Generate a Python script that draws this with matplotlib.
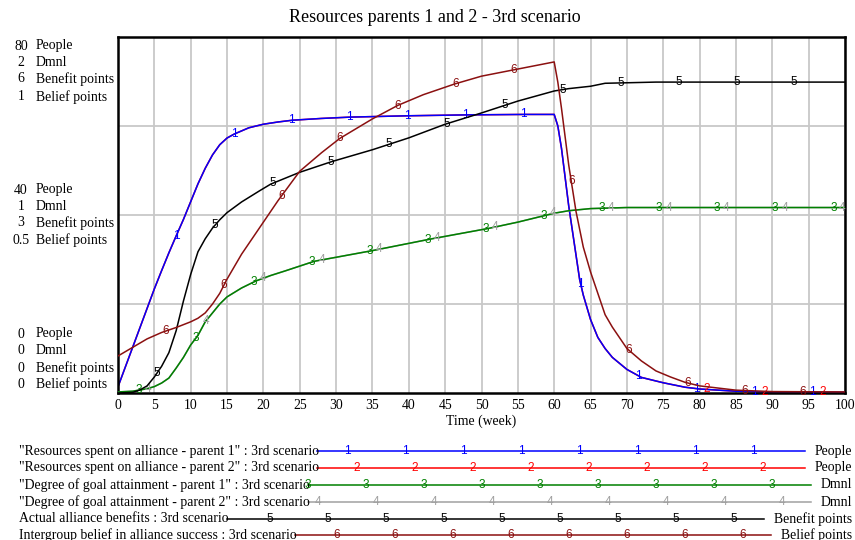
import matplotlib
matplotlib.use("Agg")
import numpy as np
import matplotlib.pyplot as plt
from matplotlib.lines import Line2D

plt.rcParams["font.family"] = ["Liberation Serif", "DejaVu Serif"]

# ---- data ----
title = "Resources parents 1 and 2 - 3rd scenario"
x_label = "Time (week)"
x_ticks = list(range(0, 101, 5))

units = ["People", "Dmnl", "Benefit points", "Belief points"]
unit_max = [80, 2, 6, 1]

# resources spent on alliance (People), parent 1 and parent 2 overlap
t_res = [0, 1, 2, 3, 4, 5, 6, 7, 8, 9, 10, 11, 12, 13, 14, 15, 16, 18, 20, 22,
         24, 28, 32, 40, 48, 56, 60, 60.5, 61, 62, 63, 63.5, 64, 65, 66, 67,
         68, 70, 72, 75, 78, 80, 85, 90, 100]
res_p1 = [1.4, 5.8, 10.2, 14.6, 19.0, 23.4, 27.5, 31.5, 35.3, 39.0, 43.0, 47.0,
          50.5, 53.5, 55.8, 57.3, 58.2, 59.6, 60.4, 60.9, 61.3, 61.7, 62.0,
          62.3, 62.5, 62.6, 62.6, 60.0, 55.0, 42.0, 31.0, 25.5, 22.0, 16.5,
          12.5, 10.0, 8.0, 5.3, 3.5, 2.3, 1.3, 0.9, 0.4, 0.2, 0.15]
res_p2 = list(res_p1)

# degree of goal attainment (Dmnl), parent 1 and parent 2 overlap
t_goal = [0, 2, 4, 5, 6, 7, 8, 9, 10, 11, 12, 13, 14, 15, 17, 19, 21, 23, 27,
          35, 43, 51, 55, 60, 62, 65, 70, 100]
goal_p1 = [0.006, 0.01, 0.024, 0.036, 0.056, 0.084, 0.14, 0.2, 0.27, 0.324,
           0.4, 0.45, 0.5, 0.54, 0.59, 0.63, 0.66, 0.686, 0.74, 0.80, 0.865,
           0.925, 0.96, 1.01, 1.024, 1.036, 1.042, 1.042]
goal_p2 = list(goal_p1)

# actual alliance benefits (Benefit points)
t_ben = [0, 2, 3, 4, 5, 6, 7, 8, 9, 10, 11, 12, 13, 14, 15, 17, 19.5, 21, 25,
         29.4, 35, 40, 45, 50, 55, 60, 62, 65, 67, 74, 100]
benefits = [0.0, 0.01, 0.05, 0.12, 0.27, 0.45, 0.68, 1.05, 1.55, 2.0, 2.38,
            2.6, 2.78, 2.92, 3.04, 3.22, 3.41, 3.52, 3.72, 3.9, 4.1, 4.3,
            4.53, 4.72, 4.92, 5.09, 5.13, 5.17, 5.22, 5.24, 5.24]

# intergroup belief in alliance success (Belief points)
t_bel = [0, 2, 4, 6, 8, 10, 11, 12, 13, 14, 15, 16, 17, 18, 20, 22, 25, 28,
         30.5, 35, 38.5, 42, 46.3, 50, 55, 60, 60.5, 61, 62, 63, 64, 65, 66,
         67, 68, 70, 72, 74, 76, 78, 80, 85, 90, 100]
belief = [0.104, 0.128, 0.152, 0.17, 0.184, 0.2, 0.21, 0.225, 0.25, 0.28,
          0.32, 0.355, 0.39, 0.42, 0.48, 0.54, 0.623, 0.675, 0.715, 0.77,
          0.808, 0.838, 0.868, 0.89, 0.91, 0.93, 0.873, 0.80, 0.64, 0.51,
          0.41, 0.34, 0.28, 0.22, 0.185, 0.125, 0.09, 0.062, 0.045, 0.03,
          0.02, 0.008, 0.004, 0.003]

legend_labels = [
    '"Resources spent on alliance - parent 1" : 3rd scenario',
    '"Resources spent on alliance - parent 2" : 3rd scenario',
    '"Degree of goal attainment - parent 1" : 3rd scenario',
    '"Degree of goal attainment - parent 2" : 3rd scenario',
    'Actual alliance benefits : 3rd scenario',
    'Intergroup belief in alliance success : 3rd scenario',
]
series_unit = [0, 0, 1, 1, 2, 3]
series_t = [t_res, t_res, t_goal, t_goal, t_ben, t_bel]
series_v = [res_p1, res_p2, goal_p1, goal_p2, benefits, belief]

# times where the series number is printed on the curve
marks_1 = [8.0, 15.95, 23.9, 31.85, 39.8, 47.75, 55.7, 63.65, 71.6, 79.55, 87.5, 95.45]
marks_2 = [81.0, 88.95, 96.9]
marks_3 = [2.8, 10.75, 18.7, 26.7, 34.65, 42.6, 50.55, 58.5, 66.5, 74.45, 82.4, 90.4, 98.4]
marks_4 = [4.1, 12.05, 20.0, 28.0, 35.95, 43.9, 51.9, 59.85, 67.8, 75.75, 83.7, 91.7, 99.65]
marks_5 = [5.4, 13.35, 21.3, 29.3, 37.25, 45.2, 53.2, 61.15, 69.1, 77.1, 85.05, 93.0]
marks_6 = [6.6, 14.55, 22.5, 30.5, 38.45, 46.4, 54.4, 62.35, 70.3, 78.3, 86.25, 94.2]
series_marks = [marks_1, marks_2, marks_3, marks_4, marks_5, marks_6]

# ---- style ----
colors = ["#0000ff", "#ff0000", "#008000", "#a0a0a0", "#000000", "#8b1010"]
draw_order = [1, 0, 3, 2, 4, 5]
W, H = 855, 540
FS = 9.9
MARK_FS = 8.5
MARK_FONT = ["Liberation Sans", "DejaVu Sans"]

def fx(px):
    return px / W

def fy(py):
    return 1 - py / H

fig = plt.figure(figsize=(W / 100, H / 100), dpi=100)
ax = fig.add_axes([fx(118), fy(393), (845 - 118) / W, (393 - 37) / H])
ax.set_xlim(0, 100)
ax.set_ylim(0, unit_max[0])
ax.set_xticks(x_ticks)
ax.set_xticklabels([str(v) for v in x_ticks], fontsize=FS)
ax.set_yticks([unit_max[0] * f for f in (0.25, 0.5, 0.75)])
ax.set_yticklabels([])
ax.tick_params(length=0, pad=4)
ax.grid(True, color="#c8c8c8", lw=1.3)
ax.set_axisbelow(True)
ax.set_xlabel(x_label, fontsize=FS, labelpad=2)
for sp in ax.spines.values():
    sp.set_color("black")
    sp.set_linewidth(1.8)

unit_axes = [ax]
for i in range(1, len(units)):
    a = ax.twinx()
    a.set_ylim(0, unit_max[i])
    a.set_yticks([])
    for sp in a.spines.values():
        sp.set_visible(False)
    unit_axes.append(a)

for i in draw_order:
    a = unit_axes[series_unit[i]]
    a.plot(series_t[i], series_v[i], color=colors[i], lw=1.1)
    for tm in series_marks[i]:
        a.text(tm, np.interp(tm, series_t[i], series_v[i]), str(i + 1),
               color=colors[i], fontsize=MARK_FS, family=MARK_FONT,
               ha="center", va="center")

# title
fig.text(fx(435), fy(18), title, ha="center", va="center", fontsize=13)

# multi-unit scale labels on the left
group_rows = [(1.0, [46, 62, 79, 97]), (0.5, [190, 207, 223, 240]), (0.0, [334, 351, 368, 384])]
for frac, rows in group_rows:
    for k, unit in enumerate(units):
        val = "%g" % (unit_max[k] * frac)
        fig.text(fx(21), fy(rows[k]), val, ha="center", va="center", fontsize=FS)
        fig.text(fx(36), fy(rows[k]), unit, ha="left", va="center", fontsize=FS)

# legend rows below the plot
legend_y = [451, 468, 485, 502, 519, 535]
legend_mark_start = [347, 357, 308, 318, 270, 337]
fig.canvas.draw()
renderer = fig.canvas.get_renderer()
for i, label in enumerate(legend_labels):
    y = fy(legend_y[i])
    txt = fig.text(fx(19), y, label, ha="left", va="center", fontsize=FS)
    utxt = fig.text(fx(852), y, units[series_unit[i]], ha="right", va="center", fontsize=FS)
    bb = txt.get_window_extent(renderer)
    ub = utxt.get_window_extent(renderer)
    x0, x1 = bb.x1 - 2, ub.x0 - 10
    fig.add_artist(Line2D([fx(x0), fx(x1)], [y, y], transform=fig.transFigure,
                          color=colors[i], lw=1.1))
    xm = legend_mark_start[i]
    while xm <= x1 - 25:
        fig.text(fx(xm), y, str(i + 1), color=colors[i], fontsize=MARK_FS,
                 family=MARK_FONT, ha="center", va="center")
        xm += 58

fig.savefig("out.png", dpi=100)
